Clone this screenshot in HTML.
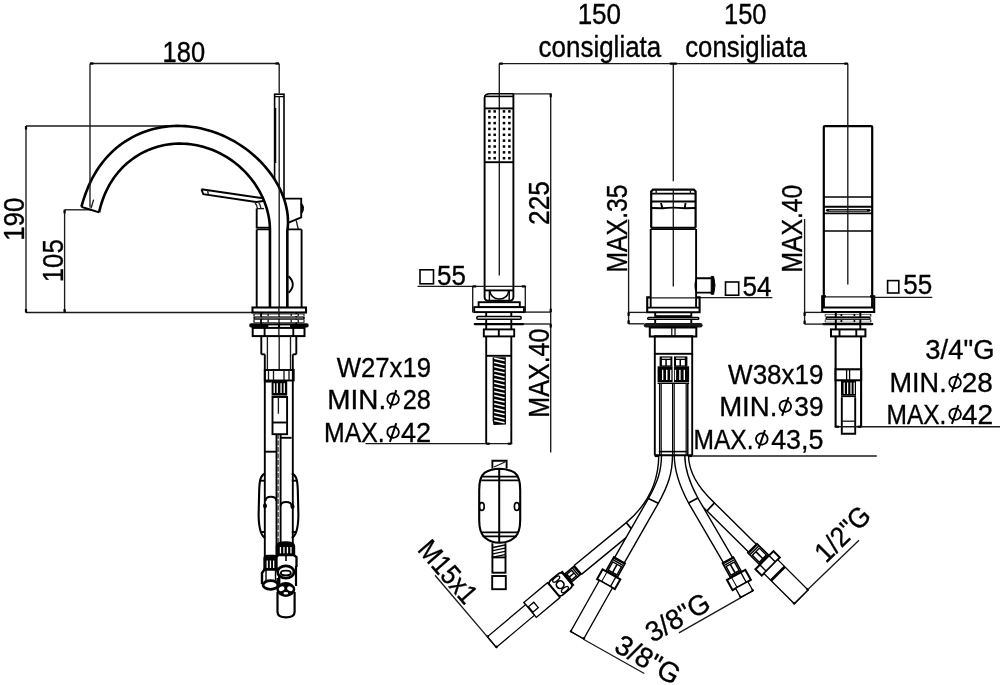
<!DOCTYPE html>
<html><head><meta charset="utf-8"><style>
html,body{margin:0;padding:0;background:#fff;}
svg{display:block;will-change:transform;}
text{font-family:"Liberation Sans",sans-serif;fill:#000;stroke:#000;stroke-width:0.35px;}
</style></head><body>
<svg width="1000" height="685" viewBox="0 0 1000 685">
<rect width="1000" height="685" fill="#fff"/>
<line x1="90.00" y1="63.50" x2="279.00" y2="63.50" stroke="#1a1a1a" stroke-width="1.35" fill="none"/>
<line x1="279.20" y1="63.50" x2="279.20" y2="93.50" stroke="#111" stroke-width="1.3"/>
<text transform="translate(164.50,61.90) rotate(0)" x="-1.94" y="0" font-size="29" textLength="42.54" lengthAdjust="spacingAndGlyphs">180</text>
<line x1="26.00" y1="126.00" x2="26.00" y2="312.50" stroke="#1a1a1a" stroke-width="1.35" fill="none"/>
<line x1="26.00" y1="126.00" x2="187.00" y2="126.00" stroke="#1a1a1a" stroke-width="1.35" fill="none"/>
<line x1="26.00" y1="312.50" x2="253.00" y2="312.50" stroke="#1a1a1a" stroke-width="1.35" fill="none"/>
<text transform="translate(23.80,238.90) rotate(-90)" x="-1.97" y="0" font-size="29" textLength="43.19" lengthAdjust="spacingAndGlyphs">190</text>
<line x1="64.60" y1="209.80" x2="64.60" y2="312.50" stroke="#1a1a1a" stroke-width="1.35" fill="none"/>
<line x1="64.60" y1="209.80" x2="92.00" y2="209.80" stroke="#1a1a1a" stroke-width="1.35" fill="none"/>
<text transform="translate(63.40,280.40) rotate(-90)" x="-1.97" y="0" font-size="29" textLength="43.16" lengthAdjust="spacingAndGlyphs">105</text>
<rect x="274.60" y="94.20" width="9.40" height="104.40" rx="0" stroke="#000" stroke-width="1.6" fill="none"/>
<line x1="274.60" y1="96.60" x2="284.00" y2="96.60" stroke="#000" stroke-width="1.3"/>
<line x1="275.60" y1="108.00" x2="275.60" y2="163.00" stroke="#000" stroke-width="1.3"/>
<path d="M284,198.6 L301.2,198.6 L301.2,217.3 L288,222.9" stroke="#000" stroke-width="1.9" fill="none"/>
<path d="M301.2,204 Q305,208.6 301.2,213.2" stroke="#000" stroke-width="2" fill="#000"/>
<line x1="296.20" y1="220.40" x2="298.30" y2="229.40" stroke="#1a1a1a" stroke-width="1.35" fill="none"/>
<path d="M201.4,189.3 L263.5,198.3 M201.4,189.3 L203.3,194.1 L256.5,202 L263.5,201" stroke="#000" stroke-width="1.9" fill="none"/>
<line x1="207.60" y1="189.80" x2="208.20" y2="194.20" stroke="#1a1a1a" stroke-width="1.35" fill="none"/>
<path d="M255,202.8 Q257,205 257.3,208.5 M258.8,202.8 Q260.5,205 261,208.5" stroke="#1a1a1a" stroke-width="1.35" fill="none"/>
<path d="M256.7,208.6 L256.7,227.6 L270,227.6" stroke="#000" stroke-width="1.9" fill="none"/>
<line x1="256.70" y1="208.60" x2="264.00" y2="208.60" stroke="#1a1a1a" stroke-width="1.35" fill="none"/>
<path d="M256.7,229.4 L301.6,229.4 M256.7,229.4 L256.7,308 M301.6,229.4 L301.6,308" stroke="#000" stroke-width="1.9" fill="none"/>
<path d="M81.41,206.75 82.46,203.07 83.59,199.42 84.80,195.80 86.10,192.21 87.50,188.65 89.00,185.12 90.62,181.64 92.35,178.21 94.20,174.84 96.17,171.52 98.27,168.28 100.49,165.10 102.83,162.01 105.30,159.01 107.88,156.11 110.59,153.31 113.41,150.62 116.35,148.05 119.39,145.59 122.53,143.27 125.77,141.08 129.10,139.02 132.51,137.11 136.00,135.34 139.56,133.72 143.18,132.25 146.86,130.93 150.59,129.77 154.36,128.76 158.17,127.90 162.00,127.20 165.85,126.65 169.72,126.25 173.59,126.00 177.47,125.91 181.34,125.95 185.20,126.14 189.05,126.48 192.87,126.95 196.67,127.55 200.44,128.29 204.17,129.15 207.87,130.15 211.53,131.26 215.15,132.49 218.72,133.84 222.24,135.30 225.71,136.88 229.13,138.56 232.49,140.35 235.80,142.24 239.04,144.24 242.22,146.33 245.34,148.53 248.39,150.82 251.37,153.22 254.28,155.71 257.10,158.29 259.85,160.97 262.52,163.75 265.09,166.62 267.57,169.58 269.94,172.63 272.21,175.78 274.37,179.01 276.40,182.33 278.30,185.73 280.06,189.21 281.68,192.78 283.13,196.41 284.42,200.11 285.53,203.87 286.45,207.68 287.17,211.53 287.68,215.41 287.96,219.31 288.00,223.22 287.80,227.12 287.34,231.00 L287.34,307 L269.95,307 L269.95,231.00 269.93,227.76 269.75,224.53 269.43,221.31 268.97,218.11 268.38,214.93 267.65,211.79 266.80,208.67 265.83,205.60 264.73,202.57 263.53,199.58 262.22,196.65 260.80,193.77 259.28,190.94 257.66,188.18 255.95,185.48 254.15,182.84 252.26,180.26 250.28,177.76 248.23,175.32 246.09,172.96 243.87,170.68 241.58,168.46 239.22,166.33 236.79,164.28 234.29,162.31 231.73,160.42 229.10,158.63 226.41,156.92 223.67,155.30 220.87,153.78 218.01,152.35 215.11,151.02 212.16,149.80 209.16,148.67 206.12,147.66 203.04,146.75 199.93,145.95 196.79,145.27 193.63,144.70 190.44,144.25 187.23,143.91 184.01,143.70 180.77,143.62 177.54,143.65 174.30,143.82 171.08,144.10 167.86,144.52 164.66,145.06 161.48,145.73 158.33,146.53 155.21,147.45 152.14,148.50 149.10,149.67 146.12,150.97 143.19,152.38 140.33,153.92 137.53,155.56 134.80,157.33 132.15,159.20 129.57,161.17 127.08,163.24 124.68,165.42 122.37,167.68 120.16,170.03 118.04,172.47 116.03,174.98 114.11,177.56 112.30,180.21 110.60,182.93 108.99,185.70 107.49,188.52 106.10,191.38 104.80,194.29 103.61,197.24 102.51,200.22 101.52,203.22 100.61,206.26 99.79,209.31 99.06,212.39 Z" fill="#fff" stroke="none"/>
<path d="M81.41,206.75 82.46,203.07 83.59,199.42 84.80,195.80 86.10,192.21 87.50,188.65 89.00,185.12 90.62,181.64 92.35,178.21 94.20,174.84 96.17,171.52 98.27,168.28 100.49,165.10 102.83,162.01 105.30,159.01 107.88,156.11 110.59,153.31 113.41,150.62 116.35,148.05 119.39,145.59 122.53,143.27 125.77,141.08 129.10,139.02 132.51,137.11 136.00,135.34 139.56,133.72 143.18,132.25 146.86,130.93 150.59,129.77 154.36,128.76 158.17,127.90 162.00,127.20 165.85,126.65 169.72,126.25 173.59,126.00 177.47,125.91 181.34,125.95 185.20,126.14 189.05,126.48 192.87,126.95 196.67,127.55 200.44,128.29 204.17,129.15 207.87,130.15 211.53,131.26 215.15,132.49 218.72,133.84 222.24,135.30 225.71,136.88 229.13,138.56 232.49,140.35 235.80,142.24 239.04,144.24 242.22,146.33 245.34,148.53 248.39,150.82 251.37,153.22 254.28,155.71 257.10,158.29 259.85,160.97 262.52,163.75 265.09,166.62 267.57,169.58 269.94,172.63 272.21,175.78 274.37,179.01 276.40,182.33 278.30,185.73 280.06,189.21 281.68,192.78 283.13,196.41 284.42,200.11 285.53,203.87 286.45,207.68 287.17,211.53 287.68,215.41 287.96,219.31 288.00,223.22 287.80,227.12 287.34,231.00 L287.34,308" stroke="#000" stroke-width="2.6" fill="none" stroke-linejoin="round"/>
<path d="M99.06,212.39 99.79,209.31 100.61,206.26 101.52,203.22 102.51,200.22 103.61,197.24 104.80,194.29 106.10,191.38 107.49,188.52 108.99,185.70 110.60,182.93 112.30,180.21 114.11,177.56 116.03,174.98 118.04,172.47 120.16,170.03 122.37,167.68 124.68,165.42 127.08,163.24 129.57,161.17 132.15,159.20 134.80,157.33 137.53,155.56 140.33,153.92 143.19,152.38 146.12,150.97 149.10,149.67 152.14,148.50 155.21,147.45 158.33,146.53 161.48,145.73 164.66,145.06 167.86,144.52 171.08,144.10 174.30,143.82 177.54,143.65 180.77,143.62 184.01,143.70 187.23,143.91 190.44,144.25 193.63,144.70 196.79,145.27 199.93,145.95 203.04,146.75 206.12,147.66 209.16,148.67 212.16,149.80 215.11,151.02 218.01,152.35 220.87,153.78 223.67,155.30 226.41,156.92 229.10,158.63 231.73,160.42 234.29,162.31 236.79,164.28 239.22,166.33 241.58,168.46 243.87,170.68 246.09,172.96 248.23,175.32 250.28,177.76 252.26,180.26 254.15,182.84 255.95,185.48 257.66,188.18 259.28,190.94 260.80,193.77 262.22,196.65 263.53,199.58 264.73,202.57 265.83,205.60 266.80,208.67 267.65,211.79 268.38,214.93 268.97,218.11 269.43,221.31 269.75,224.53 269.93,227.76 269.95,231.00 L269.95,308" stroke="#000" stroke-width="2.6" fill="none" stroke-linejoin="round"/>
<path d="M81.4,206.8 L90,209.5 L99.1,212.4" stroke="#000" stroke-width="1.9" fill="none"/>
<line x1="91.00" y1="208.30" x2="93.70" y2="199.60" stroke="#1a1a1a" stroke-width="1.35" fill="none"/>
<line x1="90.00" y1="63.50" x2="90.00" y2="207.50" stroke="#1a1a1a" stroke-width="1.35" fill="none"/>
<line x1="279.20" y1="96.00" x2="279.20" y2="370.00" stroke="#111" stroke-width="1.3"/>
<path d="M288.6,276.2 Q297,284.5 288.6,292.8" stroke="#000" stroke-width="1.9" fill="none"/>
<line x1="261.30" y1="312.00" x2="261.30" y2="336.00" stroke="#000" stroke-width="1.9" fill="none"/>
<line x1="296.30" y1="312.00" x2="296.30" y2="336.00" stroke="#000" stroke-width="1.9" fill="none"/>
<rect x="252.50" y="307.50" width="53.50" height="5.00" rx="0" stroke="#000" stroke-width="2.1" fill="#fff"/>
<line x1="278.90" y1="307.50" x2="278.90" y2="312.50" stroke="#1a1a1a" stroke-width="1.35" fill="none"/>
<rect x="253.40" y="313.60" width="51.10" height="3.00" fill="#000"/>
<rect x="254.60" y="314.40" width="5.50" height="1.60" fill="#fff"/>
<rect x="261.90" y="314.40" width="5.60" height="1.60" fill="#fff"/>
<rect x="268.70" y="314.40" width="9.70" height="1.60" fill="#fff"/>
<rect x="279.60" y="314.40" width="11.00" height="1.60" fill="#fff"/>
<rect x="291.80" y="314.40" width="5.80" height="1.60" fill="#fff"/>
<rect x="298.80" y="314.40" width="4.70" height="1.60" fill="#fff"/>
<rect x="253.40" y="317.00" width="51.40" height="1.90" fill="#000"/>
<line x1="255.00" y1="317.95" x2="303.00" y2="317.95" stroke="#fff" stroke-width="0.6"/>
<rect x="253.40" y="319.20" width="51.10" height="3.60" fill="#000"/>
<rect x="254.60" y="319.90" width="5.50" height="2.30" fill="#fff"/>
<rect x="261.90" y="319.90" width="5.60" height="2.30" fill="#fff"/>
<rect x="268.70" y="319.90" width="9.70" height="2.30" fill="#fff"/>
<rect x="279.60" y="319.90" width="11.00" height="2.30" fill="#fff"/>
<rect x="291.80" y="319.90" width="5.80" height="2.30" fill="#fff"/>
<rect x="298.80" y="319.90" width="4.70" height="2.30" fill="#fff"/>
<rect x="249.2" y="323.3" width="59.5" height="4.3" rx="2" fill="#000"/>
<rect x="268.30" y="325.40" width="9.60" height="2.40" fill="#fff"/>
<rect x="280.10" y="325.40" width="9.90" height="2.40" fill="#fff"/>
<rect x="252.70" y="327.90" width="51.80" height="8.20" rx="0" stroke="#000" stroke-width="2" fill="#fff"/>
<line x1="264.60" y1="327.90" x2="264.60" y2="336.10" stroke="#000" stroke-width="1.9" fill="none"/>
<line x1="293.30" y1="327.90" x2="293.30" y2="336.10" stroke="#000" stroke-width="1.9" fill="none"/>
<line x1="278.90" y1="327.90" x2="278.90" y2="336.10" stroke="#1a1a1a" stroke-width="1.35" fill="none"/>
<line x1="261.30" y1="336.00" x2="261.30" y2="354.30" stroke="#000" stroke-width="1.9" fill="none"/>
<line x1="296.30" y1="336.00" x2="296.30" y2="354.30" stroke="#000" stroke-width="1.9" fill="none"/>
<line x1="261.30" y1="354.30" x2="264.80" y2="354.30" stroke="#000" stroke-width="1.9" fill="none"/>
<line x1="296.30" y1="354.30" x2="292.80" y2="354.30" stroke="#000" stroke-width="1.9" fill="none"/>
<line x1="264.80" y1="354.30" x2="264.80" y2="560.00" stroke="#000" stroke-width="1.9" fill="none"/>
<line x1="292.80" y1="354.30" x2="292.80" y2="560.00" stroke="#000" stroke-width="1.9" fill="none"/>
<line x1="267.40" y1="336.00" x2="267.40" y2="370.00" stroke="#1a1a1a" stroke-width="1.35" fill="none"/>
<line x1="290.50" y1="336.00" x2="290.50" y2="370.00" stroke="#1a1a1a" stroke-width="1.35" fill="none"/>
<rect x="264.80" y="370.00" width="28.90" height="10.50" rx="0" stroke="#000" stroke-width="1.9" fill="none"/>
<line x1="268.50" y1="370.00" x2="268.50" y2="380.50" stroke="#1a1a1a" stroke-width="1.35" fill="none"/>
<line x1="273.50" y1="370.00" x2="273.50" y2="380.50" stroke="#1a1a1a" stroke-width="1.35" fill="none"/>
<line x1="284.00" y1="370.00" x2="284.00" y2="380.50" stroke="#1a1a1a" stroke-width="1.35" fill="none"/>
<line x1="289.00" y1="370.00" x2="289.00" y2="380.50" stroke="#1a1a1a" stroke-width="1.35" fill="none"/>
<rect x="271.60" y="380.40" width="15.60" height="15.00" fill="#000"/>
<rect x="273.60" y="383.20" width="1.30" height="9.80" fill="#fff"/>
<rect x="276.60" y="383.20" width="1.30" height="9.80" fill="#fff"/>
<rect x="280.40" y="383.20" width="1.30" height="9.80" fill="#fff"/>
<rect x="283.60" y="383.20" width="1.30" height="9.80" fill="#fff"/>
<line x1="271.80" y1="396.30" x2="287.00" y2="396.30" stroke="#000" stroke-width="1.2"/>
<line x1="264.80" y1="381.60" x2="271.60" y2="381.60" stroke="#000" stroke-width="1.9" fill="none"/>
<rect x="272.50" y="397.00" width="14.60" height="37.20" rx="0" stroke="#000" stroke-width="1.9" fill="none"/>
<line x1="272.50" y1="422.50" x2="287.10" y2="422.50" stroke="#000" stroke-width="1.9" fill="none"/>
<line x1="278.40" y1="397.00" x2="278.40" y2="413.70" stroke="#1a1a1a" stroke-width="1.35" fill="none"/>
<line x1="265.20" y1="451.70" x2="276.50" y2="451.70" stroke="#000" stroke-width="1.9" fill="none"/>
<line x1="276.50" y1="434.00" x2="276.50" y2="560.00" stroke="#000" stroke-width="1.9" fill="none"/>
<line x1="280.60" y1="434.00" x2="280.60" y2="545.00" stroke="#000" stroke-width="1.9" fill="none"/>
<line x1="280.60" y1="437.80" x2="291.60" y2="437.80" stroke="#000" stroke-width="1.9" fill="none"/>
<line x1="278.1" y1="434" x2="278.1" y2="545" stroke="#000" stroke-width="1" stroke-dasharray="5,1.5"/>
<path d="M265.2,473.5 C261,475 259.6,479 259.2,490 L258.6,515 C258.8,528 260.5,535.5 265.2,538" stroke="#000" stroke-width="2.1" fill="none"/>
<line x1="259.70" y1="480.70" x2="265.20" y2="480.70" stroke="#000" stroke-width="1.9" fill="none"/>
<line x1="260.30" y1="532.00" x2="265.20" y2="532.00" stroke="#000" stroke-width="1.9" fill="none"/>
<path d="M291.8,473.5 C296,475 297.4,479 297.8,490 L298.4,515 C298.2,528 296.5,535.5 291.8,538" stroke="#000" stroke-width="2.1" fill="none"/>
<line x1="297.30" y1="480.70" x2="291.80" y2="480.70" stroke="#000" stroke-width="1.9" fill="none"/>
<line x1="296.70" y1="532.00" x2="291.80" y2="532.00" stroke="#000" stroke-width="1.9" fill="none"/>
<path d="M265.5,501 Q265.8,496.8 270.8,496.8 Q276.3,496.8 276.3,501 M280.6,506 Q280.9,502 286,502 Q291.6,502 291.6,506" stroke="#000" stroke-width="1.9" fill="none"/>
<ellipse cx="265" cy="505.8" rx="2" ry="2.6" fill="#000"/><ellipse cx="292.5" cy="506.4" rx="2" ry="2.6" fill="#000"/>
<path d="M264.5,570 L264.5,559 Q264.5,556 267.5,556 L273.5,556 Q276.7,556 276.7,559 L276.7,570" stroke="#000" stroke-width="2.3" fill="#000"/>
<rect x="266.60" y="560.50" width="1.30" height="7.50" fill="#fff"/>
<rect x="269.80" y="560.50" width="1.30" height="7.50" fill="#fff"/>
<rect x="273.00" y="560.50" width="1.30" height="7.50" fill="#fff"/>
<path d="M262,584 L262,573 L264.5,569.5 L276.8,569.5 L279.2,573 L279.2,584" stroke="#000" stroke-width="2.4" fill="#fff"/>
<line x1="266.00" y1="570.00" x2="266.00" y2="582.00" stroke="#000" stroke-width="1.4"/>
<line x1="275.50" y1="570.00" x2="275.50" y2="582.00" stroke="#000" stroke-width="1.4"/>
<ellipse cx="270.6" cy="585" rx="7.6" ry="4.3" stroke="#000" stroke-width="2.8" fill="#fff"/>
<path d="M277,556 L277,546 Q277,542.5 285.5,542.5 Q294,542.5 294,546 L294,556" stroke="#000" stroke-width="2.4" fill="#000"/>
<rect x="279.80" y="547.00" width="1.30" height="6.50" fill="#fff"/>
<rect x="283.30" y="547.00" width="1.30" height="6.50" fill="#fff"/>
<rect x="286.80" y="547.00" width="1.30" height="6.50" fill="#fff"/>
<rect x="290.30" y="547.00" width="1.30" height="6.50" fill="#fff"/>
<path d="M276.5,567 L276.5,557 L278.5,555 L293.5,555 L296.5,557 L296.5,567" stroke="#000" stroke-width="2.3" fill="#fff"/>
<line x1="286.00" y1="555.00" x2="286.00" y2="561.00" stroke="#000" stroke-width="1.6"/>
<path d="M277.5,592 L277.5,612 Q277.5,617.3 286,617.3 Q294.6,617.3 294.6,612 L294.6,592" stroke="#000" stroke-width="2.2" fill="#fff"/>
<ellipse cx="285.8" cy="589.5" rx="8.3" ry="6.2" stroke="#000" stroke-width="2.4" fill="#000"/>
<ellipse cx="281.6" cy="588.8" rx="2.9" ry="2.2" transform="rotate(-25 281.6 588.8)" fill="#fff"/>
<ellipse cx="290" cy="588.8" rx="2.9" ry="2.2" transform="rotate(25 290 588.8)" fill="#fff"/>
<ellipse cx="285.8" cy="593.3" rx="2.4" ry="1.3" fill="#fff"/>
<line x1="296.00" y1="566.00" x2="296.00" y2="586.00" stroke="#000" stroke-width="2.2"/>
<ellipse cx="285.8" cy="572" rx="8.2" ry="6.2" stroke="#000" stroke-width="2.8" fill="#fff"/>
<ellipse cx="285.8" cy="573" rx="5" ry="2.4" stroke="#000" stroke-width="1.9" fill="#fff"/>
<line x1="277.50" y1="578.00" x2="277.50" y2="586.00" stroke="#000" stroke-width="2"/>
<line x1="499.30" y1="63.60" x2="848.00" y2="63.60" stroke="#1a1a1a" stroke-width="1.35" fill="none"/>
<line x1="499.30" y1="63.60" x2="499.30" y2="275.60" stroke="#1a1a1a" stroke-width="1.35" fill="none"/>
<line x1="673.30" y1="63.60" x2="673.30" y2="181.30" stroke="#1a1a1a" stroke-width="1.35" fill="none"/>
<line x1="847.80" y1="63.60" x2="847.80" y2="125.60" stroke="#1a1a1a" stroke-width="1.35" fill="none"/>
<text transform="translate(579.60,23.70) rotate(0)" x="-1.98" y="0" font-size="29" textLength="43.40" lengthAdjust="spacingAndGlyphs">150</text>
<text transform="translate(539.70,57.30) rotate(0)" x="-1.09" y="0" font-size="29" textLength="122.59" lengthAdjust="spacingAndGlyphs">consigliata</text>
<text transform="translate(725.90,23.70) rotate(0)" x="-1.94" y="0" font-size="29" textLength="42.54" lengthAdjust="spacingAndGlyphs">150</text>
<text transform="translate(686.30,57.10) rotate(0)" x="-1.08" y="0" font-size="29" textLength="121.68" lengthAdjust="spacingAndGlyphs">consigliata</text>
<path d="M484.6,97 L484.6,297 Q484.6,300.8 488.8,300.8 L508.8,300.8 Q513.4,300.8 513.4,297 L513.4,93.8" stroke="#000" stroke-width="1.9" fill="none"/>
<path d="M484.6,97 Q485,93.8 490,93.8 L513.4,93.8" stroke="#000" stroke-width="1.6" fill="none"/>
<line x1="484.60" y1="96.40" x2="513.40" y2="96.40" stroke="#000" stroke-width="1.6"/>
<line x1="484.60" y1="108.40" x2="513.40" y2="108.40" stroke="#000" stroke-width="1.9" fill="none"/>
<line x1="484.60" y1="162.20" x2="513.40" y2="162.20" stroke="#000" stroke-width="1.9" fill="none"/>
<rect x="488.15" y="110.15" width="2.5" height="2.5" fill="#000"/>
<rect x="493.45" y="110.15" width="2.5" height="2.5" fill="#000"/>
<rect x="502.75" y="110.15" width="2.5" height="2.5" fill="#000"/>
<rect x="508.15" y="110.15" width="2.5" height="2.5" fill="#000"/>
<rect x="488.15" y="116.00" width="2.5" height="2.5" fill="#000"/>
<rect x="493.45" y="116.00" width="2.5" height="2.5" fill="#000"/>
<rect x="502.75" y="116.00" width="2.5" height="2.5" fill="#000"/>
<rect x="508.15" y="116.00" width="2.5" height="2.5" fill="#000"/>
<rect x="488.15" y="121.85" width="2.5" height="2.5" fill="#000"/>
<rect x="493.45" y="121.85" width="2.5" height="2.5" fill="#000"/>
<rect x="502.75" y="121.85" width="2.5" height="2.5" fill="#000"/>
<rect x="508.15" y="121.85" width="2.5" height="2.5" fill="#000"/>
<rect x="488.15" y="127.70" width="2.5" height="2.5" fill="#000"/>
<rect x="493.45" y="127.70" width="2.5" height="2.5" fill="#000"/>
<rect x="502.75" y="127.70" width="2.5" height="2.5" fill="#000"/>
<rect x="508.15" y="127.70" width="2.5" height="2.5" fill="#000"/>
<rect x="488.15" y="133.55" width="2.5" height="2.5" fill="#000"/>
<rect x="493.45" y="133.55" width="2.5" height="2.5" fill="#000"/>
<rect x="502.75" y="133.55" width="2.5" height="2.5" fill="#000"/>
<rect x="508.15" y="133.55" width="2.5" height="2.5" fill="#000"/>
<rect x="488.15" y="139.40" width="2.5" height="2.5" fill="#000"/>
<rect x="493.45" y="139.40" width="2.5" height="2.5" fill="#000"/>
<rect x="502.75" y="139.40" width="2.5" height="2.5" fill="#000"/>
<rect x="508.15" y="139.40" width="2.5" height="2.5" fill="#000"/>
<rect x="488.15" y="145.25" width="2.5" height="2.5" fill="#000"/>
<rect x="493.45" y="145.25" width="2.5" height="2.5" fill="#000"/>
<rect x="502.75" y="145.25" width="2.5" height="2.5" fill="#000"/>
<rect x="508.15" y="145.25" width="2.5" height="2.5" fill="#000"/>
<rect x="488.15" y="151.10" width="2.5" height="2.5" fill="#000"/>
<rect x="493.45" y="151.10" width="2.5" height="2.5" fill="#000"/>
<rect x="502.75" y="151.10" width="2.5" height="2.5" fill="#000"/>
<rect x="508.15" y="151.10" width="2.5" height="2.5" fill="#000"/>
<rect x="488.15" y="156.95" width="2.5" height="2.5" fill="#000"/>
<rect x="493.45" y="156.95" width="2.5" height="2.5" fill="#000"/>
<rect x="502.75" y="156.95" width="2.5" height="2.5" fill="#000"/>
<rect x="508.15" y="156.95" width="2.5" height="2.5" fill="#000"/>
<line x1="484.60" y1="290.40" x2="513.40" y2="290.40" stroke="#000" stroke-width="1.9" fill="none"/>
<path d="M489.8,290.6 Q491,298.9 499.3,298.9 Q507.6,298.9 508.8,290.6" stroke="#000" stroke-width="1.5" fill="none"/>
<line x1="489.40" y1="290.60" x2="489.40" y2="300.50" stroke="#000" stroke-width="1.4"/>
<line x1="509.20" y1="290.60" x2="509.20" y2="300.50" stroke="#000" stroke-width="1.4"/>
<rect x="478.60" y="302.20" width="41.20" height="4.90" rx="0" stroke="#000" stroke-width="1.9" fill="none"/>
<rect x="474.20" y="307.10" width="49.80" height="5.00" rx="0" stroke="#000" stroke-width="1.9" fill="none"/>
<line x1="486.20" y1="312.00" x2="486.20" y2="443.60" stroke="#000" stroke-width="1.9" fill="none"/>
<line x1="511.30" y1="312.00" x2="511.30" y2="443.60" stroke="#000" stroke-width="1.9" fill="none"/>
<rect x="476.80" y="316.60" width="44.40" height="2.70" rx="1.2" stroke="#000" stroke-width="1.5" fill="#fff"/>
<path d="M474.8,324.1 L523.2,324.1" stroke="#000" stroke-width="2.3" stroke-linecap="round"/>
<rect x="483.80" y="329.40" width="30.40" height="7.00" rx="0" stroke="#000" stroke-width="1.9" fill="#fff"/>
<line x1="498.80" y1="329.40" x2="498.80" y2="336.40" stroke="#000" stroke-width="1.9" fill="none"/>
<line x1="486.20" y1="355.80" x2="511.30" y2="355.80" stroke="#000" stroke-width="1.9" fill="none"/>
<path d="M492.6,357.2 L505.8,357.2 L506,424.5 L493.5,425 L492.6,420 Z" fill="#000"/>
<path d="M494.2,358.20 L504.6,360.60 M494.2,362.35 L504.6,364.75 M494.2,366.50 L504.6,368.90 M494.2,370.65 L504.6,373.05 M494.2,374.80 L504.6,377.20 M494.2,378.95 L504.6,381.35 M494.2,383.10 L504.6,385.50 M494.2,387.25 L504.6,389.65 M494.2,391.40 L504.6,393.80 M494.2,395.55 L504.6,397.95 M494.2,399.70 L504.6,402.10 M494.2,403.85 L504.6,406.25 M494.2,408.00 L504.6,410.40 M494.2,412.15 L504.6,414.55 M494.2,416.30 L504.6,418.70 M494.2,420.45 L504.6,422.85" stroke="#fff" stroke-width="1.5" fill="none"/>
<line x1="513.00" y1="93.80" x2="551.50" y2="93.80" stroke="#1a1a1a" stroke-width="1.35" fill="none"/>
<line x1="550.70" y1="93.80" x2="550.70" y2="452.50" stroke="#1a1a1a" stroke-width="1.35" fill="none"/>
<line x1="524.40" y1="312.10" x2="551.20" y2="312.10" stroke="#1a1a1a" stroke-width="1.35" fill="none"/>
<line x1="523.50" y1="324.00" x2="551.20" y2="324.00" stroke="#1a1a1a" stroke-width="1.35" fill="none"/>
<line x1="365.60" y1="443.60" x2="512.30" y2="443.60" stroke="#1a1a1a" stroke-width="1.35" fill="none"/>
<text transform="translate(549.10,223.60) rotate(-90)" x="-1.31" y="0" font-size="29" textLength="43.83" lengthAdjust="spacingAndGlyphs">225</text>
<text transform="translate(549.20,415.60) rotate(-90)" x="-2.05" y="0" font-size="29" textLength="89.14" lengthAdjust="spacingAndGlyphs">MAX.40</text>
<rect x="420.00" y="269.80" width="13.50" height="14.00" rx="0" stroke="#000" stroke-width="1.6" fill="none"/>
<text transform="translate(438.10,284.60) rotate(0)" x="-1.04" y="0" font-size="28" textLength="28.83" lengthAdjust="spacingAndGlyphs">55</text>
<line x1="417.50" y1="286.40" x2="526.20" y2="286.40" stroke="#1a1a1a" stroke-width="1.35" fill="none"/>
<line x1="472.70" y1="286.40" x2="472.70" y2="312.40" stroke="#1a1a1a" stroke-width="1.35" fill="none"/>
<line x1="525.30" y1="286.40" x2="525.30" y2="312.40" stroke="#1a1a1a" stroke-width="1.35" fill="none"/>
<text transform="translate(336.80,376.60) rotate(0)" x="-0.13" y="0" font-size="28.2" textLength="94.35" lengthAdjust="spacingAndGlyphs">W27x19</text>
<text transform="translate(329.60,408.70) rotate(0)" x="-2.28" y="0" font-size="28.2" textLength="58.82" lengthAdjust="spacingAndGlyphs">MIN.</text>
<ellipse cx="393.10" cy="399.10" rx="5.8" ry="5.6" transform="rotate(10 393.10 399.10)" stroke="#000" stroke-width="1.8" fill="none"/>
<line x1="389.90" y1="408.70" x2="396.30" y2="390.10" stroke="#000" stroke-width="2"/>
<text transform="translate(404.00,408.70) rotate(0)" x="-1.27" y="0" font-size="28.2" textLength="28.16" lengthAdjust="spacingAndGlyphs">28</text>
<text transform="translate(326.00,441.80) rotate(0)" x="-2.04" y="0" font-size="28.2" textLength="60.69" lengthAdjust="spacingAndGlyphs">MAX.</text>
<ellipse cx="393.10" cy="432.20" rx="5.8" ry="5.6" transform="rotate(10 393.10 432.20)" stroke="#000" stroke-width="1.8" fill="none"/>
<line x1="389.90" y1="441.80" x2="396.30" y2="423.20" stroke="#000" stroke-width="2"/>
<text transform="translate(401.60,441.80) rotate(0)" x="-0.62" y="0" font-size="28.2" textLength="30.19" lengthAdjust="spacingAndGlyphs">42</text>
<path d="M492.4,468.6 L492.4,460.8 L506.6,460.8 L506.6,468.6" stroke="#000" stroke-width="1.9" fill="none"/>
<line x1="494.00" y1="467.00" x2="505.00" y2="462.00" stroke="#1a1a1a" stroke-width="1.35" fill="none"/>
<path d="M499.7,468.8 Q508.5,469 514.6,472.7 Q520.2,477 520.2,490 L520.2,520 Q520.2,533 514.6,537.5 Q508.5,542.8 499.7,542.8 Q490.9,542.8 484.8,537.5 Q479.2,533 479.2,520 L479.2,490 Q479.2,477 484.8,472.7 Q490.9,469 499.7,468.8 Z" stroke="#000" stroke-width="2.1" fill="none"/>
<line x1="482.50" y1="476.60" x2="517.00" y2="476.60" stroke="#000" stroke-width="1.9" fill="none"/>
<line x1="481.20" y1="480.40" x2="518.20" y2="480.40" stroke="#000" stroke-width="1.9" fill="none"/>
<line x1="481.20" y1="532.40" x2="518.20" y2="532.40" stroke="#000" stroke-width="1.9" fill="none"/>
<line x1="482.50" y1="536.40" x2="517.00" y2="536.40" stroke="#000" stroke-width="1.9" fill="none"/>
<line x1="499.20" y1="468.80" x2="499.20" y2="542.80" stroke="#000" stroke-width="2"/>
<ellipse cx="481.8" cy="506.5" rx="2.4" ry="3.9" stroke="#000" stroke-width="1.7" fill="none"/>
<ellipse cx="516.8" cy="506.5" rx="2.4" ry="3.9" stroke="#000" stroke-width="1.7" fill="none"/>
<line x1="492.40" y1="543.20" x2="492.40" y2="557.40" stroke="#000" stroke-width="1.9" fill="none"/>
<line x1="505.50" y1="543.20" x2="505.50" y2="557.40" stroke="#000" stroke-width="1.9" fill="none"/>
<line x1="493.00" y1="547.50" x2="505.00" y2="545.00" stroke="#000" stroke-width="1.3"/>
<line x1="493.00" y1="550.70" x2="505.00" y2="548.20" stroke="#000" stroke-width="1.3"/>
<line x1="493.00" y1="553.90" x2="505.00" y2="551.40" stroke="#000" stroke-width="1.3"/>
<line x1="493.00" y1="557.10" x2="505.00" y2="554.60" stroke="#000" stroke-width="1.3"/>
<rect x="492.40" y="557.40" width="13.10" height="15.30" rx="0" stroke="#000" stroke-width="1.9" fill="none"/>
<rect x="492.20" y="576.00" width="13.60" height="13.20" rx="0" stroke="#000" stroke-width="1.9" fill="none"/>
<path d="M651.2,227.8 L651.2,191.4 L653,189.6 L693.8,189.6 L695.6,191.4 L695.6,227.8" stroke="#000" stroke-width="2.2" fill="none"/>
<line x1="651.20" y1="193.60" x2="695.60" y2="193.60" stroke="#000" stroke-width="1.9" fill="none"/>
<line x1="656.20" y1="190.00" x2="656.20" y2="194.00" stroke="#1a1a1a" stroke-width="1.35" fill="none"/>
<line x1="690.40" y1="190.00" x2="690.40" y2="194.00" stroke="#1a1a1a" stroke-width="1.35" fill="none"/>
<line x1="651.20" y1="201.50" x2="695.60" y2="201.50" stroke="#000" stroke-width="2.2" fill="none"/>
<path d="M661,203 L662.3,208 M685.6,203 L684.7,208" stroke="#000" stroke-width="1.9" fill="none"/>
<path d="M651.2,208 L662.3,208.2 Q673,207 684.7,208.2 L695.6,208" stroke="#000" stroke-width="1.9" fill="none"/>
<line x1="651.20" y1="227.60" x2="695.60" y2="227.60" stroke="#000" stroke-width="1.9" fill="none"/>
<line x1="673.30" y1="189.60" x2="673.30" y2="286.40" stroke="#1a1a1a" stroke-width="1.35" fill="none"/>
<path d="M650.7,229.1 L696.1,229.1 M650.7,229.1 L650.7,307.6 M696.1,229.1 L696.1,307.6" stroke="#000" stroke-width="1.9" fill="none"/>
<path d="M697,278.2 L711.5,278.2 M711.5,292.6 L697,292.6" stroke="#000" stroke-width="1.9" fill="none"/>
<path d="M711.2,276.4 L713.6,276.4 Q716.4,285.4 713.6,294.3 L711.2,294.3 Z" stroke="#000" stroke-width="1" fill="#000"/>
<path d="M696.3,279.5 Q694.2,285.4 696.3,291.3" stroke="#000" stroke-width="1.6" fill="none"/>
<rect x="725.50" y="282.00" width="13.20" height="13.20" rx="0" stroke="#000" stroke-width="1.6" fill="none"/>
<text transform="translate(743.50,296.00) rotate(0)" x="-1.04" y="0" font-size="28" textLength="29.01" lengthAdjust="spacingAndGlyphs">54</text>
<line x1="697.00" y1="297.60" x2="772.40" y2="297.60" stroke="#1a1a1a" stroke-width="1.35" fill="none"/>
<line x1="650.70" y1="297.80" x2="697.00" y2="297.80" stroke="#1a1a1a" stroke-width="1.35" fill="none"/>
<path d="M651,297.4 L647.2,297.4 L647.2,312.2 L699.6,312.2 L699.6,297.4 L696,297.4" stroke="#000" stroke-width="2.1" fill="none"/>
<line x1="647.20" y1="307.60" x2="699.60" y2="307.60" stroke="#000" stroke-width="1.9" fill="none"/>
<line x1="655.20" y1="312.00" x2="655.20" y2="327.00" stroke="#000" stroke-width="1.9" fill="none"/>
<line x1="691.30" y1="312.00" x2="691.30" y2="327.00" stroke="#000" stroke-width="1.9" fill="none"/>
<rect x="655.40" y="315.20" width="35.70" height="2.10" fill="#000"/>
<rect x="647.70" y="317.40" width="51.10" height="1.90" rx="0.9" stroke="#000" stroke-width="1.4" fill="#fff"/>
<rect x="643.8" y="323" width="58.8" height="4.5" rx="2.2" fill="#1a1a1a"/>
<rect x="649.80" y="327.50" width="46.50" height="9.00" rx="0" stroke="#000" stroke-width="2" fill="#fff"/>
<line x1="671.80" y1="327.50" x2="671.80" y2="336.50" stroke="#000" stroke-width="1.2"/>
<line x1="675.00" y1="327.50" x2="675.00" y2="336.50" stroke="#000" stroke-width="1.2"/>
<rect x="654.80" y="336.20" width="37.40" height="17.60" rx="0" stroke="#000" stroke-width="1.9" fill="none"/>
<line x1="654.80" y1="353.80" x2="654.80" y2="455.40" stroke="#000" stroke-width="1.9" fill="none"/>
<line x1="692.20" y1="353.80" x2="692.20" y2="455.40" stroke="#000" stroke-width="1.9" fill="none"/>
<line x1="654.80" y1="455.40" x2="692.20" y2="455.40" stroke="#000" stroke-width="1.9" fill="none"/>
<rect x="659.60" y="356.40" width="13.00" height="10.10" fill="#000"/>
<rect x="674.00" y="356.40" width="13.40" height="10.10" fill="#000"/>
<rect x="661.90" y="360.00" width="3.40" height="5.40" fill="#fff"/>
<rect x="666.80" y="360.00" width="3.60" height="5.40" fill="#fff"/>
<rect x="676.00" y="360.00" width="3.50" height="5.40" fill="#fff"/>
<rect x="681.00" y="360.00" width="3.80" height="5.40" fill="#fff"/>
<rect x="661.90" y="357.60" width="8.50" height="1.10" fill="#fff"/>
<rect x="676.00" y="357.60" width="8.80" height="1.10" fill="#fff"/>
<rect x="657.60" y="366.30" width="31.50" height="15.70" fill="#000"/>
<rect x="662.00" y="369.80" width="1.30" height="10.20" fill="#fff"/>
<rect x="666.00" y="369.80" width="1.50" height="10.20" fill="#fff"/>
<rect x="670.10" y="369.80" width="1.30" height="10.20" fill="#fff"/>
<rect x="674.80" y="369.80" width="1.30" height="10.20" fill="#fff"/>
<rect x="679.20" y="369.80" width="1.40" height="10.20" fill="#fff"/>
<rect x="683.60" y="369.80" width="1.40" height="10.20" fill="#fff"/>
<rect x="672.60" y="356.40" width="1.40" height="25.60" fill="#fff"/>
<line x1="657.60" y1="383.20" x2="689.10" y2="383.20" stroke="#000" stroke-width="1.4"/>
<line x1="659.60" y1="383.00" x2="659.60" y2="455.40" stroke="#000" stroke-width="1.3"/>
<line x1="661.20" y1="383.00" x2="661.20" y2="455.40" stroke="#1a1a1a" stroke-width="1.35" fill="none"/>
<line x1="672.60" y1="383.00" x2="672.60" y2="455.40" stroke="#000" stroke-width="1.2"/>
<line x1="674.20" y1="383.00" x2="674.20" y2="455.40" stroke="#000" stroke-width="1.2"/>
<line x1="686.20" y1="383.00" x2="686.20" y2="455.40" stroke="#1a1a1a" stroke-width="1.35" fill="none"/>
<line x1="687.80" y1="383.00" x2="687.80" y2="455.40" stroke="#000" stroke-width="1.5"/>
<line x1="658.80" y1="451.60" x2="686.40" y2="451.60" stroke="#000" stroke-width="1.6"/>
<line x1="628.60" y1="219.50" x2="628.60" y2="323.80" stroke="#1a1a1a" stroke-width="1.35" fill="none"/>
<line x1="628.60" y1="312.40" x2="647.60" y2="312.40" stroke="#1a1a1a" stroke-width="1.35" fill="none"/>
<line x1="628.60" y1="323.80" x2="644.00" y2="323.80" stroke="#1a1a1a" stroke-width="1.35" fill="none"/>
<text transform="translate(627.40,270.50) rotate(-90)" x="-2.03" y="0" font-size="29" textLength="88.07" lengthAdjust="spacingAndGlyphs">MAX.35</text>
<text transform="translate(728.20,383.70) rotate(0)" x="-0.13" y="0" font-size="28.2" textLength="95.47" lengthAdjust="spacingAndGlyphs">W38x19</text>
<text transform="translate(721.40,415.80) rotate(0)" x="-2.26" y="0" font-size="28.2" textLength="58.16" lengthAdjust="spacingAndGlyphs">MIN.</text>
<ellipse cx="785.30" cy="406.20" rx="5.8" ry="5.6" transform="rotate(10 785.30 406.20)" stroke="#000" stroke-width="1.8" fill="none"/>
<line x1="782.10" y1="415.80" x2="788.50" y2="397.20" stroke="#000" stroke-width="2"/>
<text transform="translate(795.30,415.80) rotate(0)" x="-1.00" y="0" font-size="28.2" textLength="29.24" lengthAdjust="spacingAndGlyphs">39</text>
<text transform="translate(695.50,448.60) rotate(0)" x="-2.01" y="0" font-size="28.2" textLength="60.05" lengthAdjust="spacingAndGlyphs">MAX.</text>
<ellipse cx="761.80" cy="439.00" rx="5.8" ry="5.6" transform="rotate(10 761.80 439.00)" stroke="#000" stroke-width="1.8" fill="none"/>
<line x1="758.60" y1="448.60" x2="765.00" y2="430.00" stroke="#000" stroke-width="2"/>
<text transform="translate(771.80,448.60) rotate(0)" x="-0.62" y="0" font-size="28.2" textLength="52.25" lengthAdjust="spacingAndGlyphs">43,5</text>
<line x1="692.20" y1="456.00" x2="876.80" y2="456.00" stroke="#1a1a1a" stroke-width="1.35" fill="none"/>
<path d="M823.8,307.5 L823.8,127 Q823.8,126.1 824.7,126.1 L871.3,126.1 Q872.2,126.1 872.2,127 L872.2,307.5" stroke="#000" stroke-width="2.2" fill="none"/>
<line x1="823.80" y1="196.90" x2="872.20" y2="196.90" stroke="#000" stroke-width="1.5"/>
<line x1="823.80" y1="206.80" x2="872.20" y2="206.80" stroke="#000" stroke-width="1.9" fill="none"/>
<line x1="823.80" y1="213.40" x2="872.20" y2="213.40" stroke="#000" stroke-width="1.9" fill="none"/>
<rect x="826" y="208.9" width="44.5" height="2.8" rx="1.4" fill="#000"/>
<line x1="829.00" y1="210.30" x2="867.00" y2="210.30" stroke="#fff" stroke-width="0.6"/>
<line x1="823.80" y1="230.90" x2="872.20" y2="230.90" stroke="#000" stroke-width="1.5"/>
<line x1="847.80" y1="125.60" x2="847.80" y2="284.40" stroke="#1a1a1a" stroke-width="1.35" fill="none"/>
<line x1="823.80" y1="296.90" x2="872.20" y2="296.90" stroke="#1a1a1a" stroke-width="1.35" fill="none"/>
<path d="M826,296.4 L822.2,296.4 L822.2,312 L874.2,312 L874.2,296.4 L870,296.4" stroke="#000" stroke-width="2.1" fill="none"/>
<line x1="822.20" y1="307.50" x2="874.20" y2="307.50" stroke="#000" stroke-width="1.9" fill="none"/>
<line x1="835.80" y1="312.00" x2="835.80" y2="329.40" stroke="#000" stroke-width="1.9" fill="none"/>
<line x1="860.30" y1="312.00" x2="860.30" y2="329.40" stroke="#000" stroke-width="1.9" fill="none"/>
<rect x="824.80" y="313.90" width="46.50" height="2.60" fill="#000"/>
<rect x="825.50" y="314.50" width="9.30" height="1.50" fill="#fff"/>
<rect x="836.80" y="314.50" width="3.70" height="1.50" fill="#fff"/>
<rect x="842.30" y="314.50" width="11.30" height="1.50" fill="#fff"/>
<rect x="855.20" y="314.50" width="4.20" height="1.50" fill="#fff"/>
<rect x="861.30" y="314.50" width="9.00" height="1.50" fill="#fff"/>
<rect x="826.00" y="317.40" width="44.20" height="1.80" rx="0.9" stroke="#000" stroke-width="1.3" fill="#fff"/>
<rect x="824.80" y="319.60" width="46.50" height="2.70" fill="#000"/>
<rect x="825.50" y="320.10" width="9.30" height="1.70" fill="#fff"/>
<rect x="836.80" y="320.10" width="3.70" height="1.70" fill="#fff"/>
<rect x="842.30" y="320.10" width="11.30" height="1.70" fill="#fff"/>
<rect x="855.20" y="320.10" width="4.20" height="1.70" fill="#fff"/>
<rect x="861.30" y="320.10" width="9.00" height="1.70" fill="#fff"/>
<path d="M823.5,324.1 L872.3,324.1" stroke="#000" stroke-width="2.3" stroke-linecap="round"/>
<rect x="831.00" y="329.40" width="34.40" height="7.00" rx="0" stroke="#000" stroke-width="2" fill="#fff"/>
<line x1="839.50" y1="329.40" x2="839.50" y2="336.40" stroke="#000" stroke-width="1.9" fill="none"/>
<line x1="856.30" y1="329.40" x2="856.30" y2="336.40" stroke="#000" stroke-width="1.9" fill="none"/>
<line x1="835.60" y1="336.00" x2="835.60" y2="427.40" stroke="#000" stroke-width="2.1"/>
<line x1="861.10" y1="336.00" x2="861.10" y2="427.40" stroke="#000" stroke-width="2.1"/>
<rect x="835.60" y="369.30" width="25.50" height="11.00" rx="0" stroke="#000" stroke-width="2.1" fill="#fff"/>
<line x1="846.60" y1="369.30" x2="846.60" y2="380.30" stroke="#000" stroke-width="1.3"/>
<line x1="849.60" y1="369.30" x2="849.60" y2="380.30" stroke="#000" stroke-width="1.3"/>
<rect x="841" y="380.3" width="15" height="15.4" fill="#000"/>
<rect x="843.60" y="382.50" width="1.20" height="11.50" fill="#fff"/>
<rect x="847.00" y="382.50" width="1.20" height="11.50" fill="#fff"/>
<rect x="850.40" y="382.50" width="1.20" height="11.50" fill="#fff"/>
<rect x="853.60" y="382.50" width="1.20" height="11.50" fill="#fff"/>
<line x1="841.00" y1="396.40" x2="856.00" y2="396.40" stroke="#000" stroke-width="1.4"/>
<path d="M841.8,397.3 L841.8,433.8 L855.2,433.8 L855.2,397.3" stroke="#000" stroke-width="1.9" fill="none"/>
<line x1="841.80" y1="421.20" x2="855.20" y2="421.20" stroke="#1a1a1a" stroke-width="1.35" fill="none"/>
<line x1="834.70" y1="426.70" x2="1000.00" y2="426.70" stroke="#1a1a1a" stroke-width="1.35" fill="none"/>
<line x1="804.60" y1="219.00" x2="804.60" y2="324.10" stroke="#1a1a1a" stroke-width="1.35" fill="none"/>
<line x1="804.60" y1="312.40" x2="822.80" y2="312.40" stroke="#1a1a1a" stroke-width="1.35" fill="none"/>
<line x1="804.60" y1="324.10" x2="830.00" y2="324.10" stroke="#1a1a1a" stroke-width="1.35" fill="none"/>
<text transform="translate(802.40,270.50) rotate(-90)" x="-2.02" y="0" font-size="29" textLength="87.69" lengthAdjust="spacingAndGlyphs">MAX.40</text>
<rect x="887.60" y="280.60" width="11.20" height="12.40" rx="0" stroke="#000" stroke-width="1.6" fill="none"/>
<text transform="translate(904.30,293.80) rotate(0)" x="-1.04" y="0" font-size="28" textLength="28.94" lengthAdjust="spacingAndGlyphs">55</text>
<line x1="873.60" y1="297.30" x2="932.30" y2="297.30" stroke="#1a1a1a" stroke-width="1.35" fill="none"/>
<text transform="translate(926.40,359.30) rotate(0)" x="-1.04" y="0" font-size="28.2" textLength="69.09" lengthAdjust="spacingAndGlyphs">3/4&quot;G</text>
<text transform="translate(891.70,392.00) rotate(0)" x="-2.22" y="0" font-size="28.2" textLength="57.18" lengthAdjust="spacingAndGlyphs">MIN.</text>
<ellipse cx="955.10" cy="382.40" rx="5.8" ry="5.6" transform="rotate(10 955.10 382.40)" stroke="#000" stroke-width="1.8" fill="none"/>
<line x1="951.90" y1="392.00" x2="958.30" y2="373.40" stroke="#000" stroke-width="2"/>
<text transform="translate(963.20,392.00) rotate(0)" x="-1.40" y="0" font-size="28.2" textLength="31.11" lengthAdjust="spacingAndGlyphs">28</text>
<text transform="translate(888.50,423.80) rotate(0)" x="-2.01" y="0" font-size="28.2" textLength="59.94" lengthAdjust="spacingAndGlyphs">MAX.</text>
<ellipse cx="955.10" cy="414.20" rx="5.8" ry="5.6" transform="rotate(10 955.10 414.20)" stroke="#000" stroke-width="1.8" fill="none"/>
<line x1="951.90" y1="423.80" x2="958.30" y2="405.20" stroke="#000" stroke-width="2"/>
<text transform="translate(962.50,423.80) rotate(0)" x="-0.65" y="0" font-size="28.2" textLength="31.26" lengthAdjust="spacingAndGlyphs">42</text>
<path d="M664.5,455 C664.5,485 653,507.7 630,527 L577.8,569.9" stroke="#000" stroke-width="12.9" fill="none"/>
<path d="M664.5,455 C664.5,485 653,507.7 630,527 L577.8,569.9" stroke="#fff" stroke-width="10.1" fill="none"/>
<line x1="633.80" y1="531.60" x2="626.40" y2="522.80" stroke="#000" stroke-width="1.7"/>
<path d="M667,455 C667,472 662.9,483.5 653.3,501 L619.5,560.1" stroke="#000" stroke-width="12.4" fill="none"/>
<path d="M667,455 C667,472 662.9,483.5 653.3,501 L619.5,560.1" stroke="#fff" stroke-width="9.6" fill="none"/>
<line x1="658.28" y1="503.22" x2="648.32" y2="498.58" stroke="#000" stroke-width="1.7"/>
<path d="M683,455 C683,472 692.4,489.9 710.7,506.9 L752.4,548.2" stroke="#000" stroke-width="12.4" fill="none"/>
<path d="M683,455 C683,472 692.4,489.9 710.7,506.9 L752.4,548.2" stroke="#fff" stroke-width="9.6" fill="none"/>
<line x1="714.45" y1="502.88" x2="706.95" y2="510.92" stroke="#000" stroke-width="1.7"/>
<path d="M679.5,455 C679.5,470 683.7,482.9 693.2,500.5 L727.9,560" stroke="#000" stroke-width="11.9" fill="none"/>
<path d="M679.5,455 C679.5,470 683.7,482.9 693.2,500.5 L727.9,560" stroke="#fff" stroke-width="9.1" fill="none"/>
<line x1="697.82" y1="498.00" x2="688.58" y2="503.00" stroke="#000" stroke-width="1.7"/>
<line x1="654.80" y1="455.40" x2="692.20" y2="455.40" stroke="#000" stroke-width="1.9" fill="none"/>
<g transform="translate(577.80,569.90) rotate(140)">
<rect x="0" y="-5.25" width="13.5" height="10.5" rx="0" stroke="#000" stroke-width="1.6" fill="#fff"/>
<line x1="1.0" y1="-5.25" x2="1.0" y2="5.25" stroke="#000" stroke-width="1.4"/>
<line x1="2.9" y1="-5.25" x2="2.9" y2="5.25" stroke="#000" stroke-width="1.4"/>
<rect x="4.2" y="-4.45" width="7.9" height="8.9" fill="#000"/>
<rect x="5.6" y="-3.05" width="4.9" height="2.25" fill="#fff"/>
<rect x="5.6" y="0.8" width="4.9" height="2.25" fill="#fff"/>
<line x1="12.7" y1="-5.25" x2="12.7" y2="5.25" stroke="#000" stroke-width="1.6"/>
<rect x="13.5" y="-9.5" width="18.0" height="19" rx="4" stroke="#000" stroke-width="1.8" fill="#fff"/>
<circle cx="23" cy="0" r="3.8" stroke="#000" stroke-width="1.7" fill="#fff"/>
<line x1="13.5" y1="-9.5" x2="13.5" y2="9.5" stroke="#000" stroke-width="2.4"/>
<line x1="31.5" y1="-9.5" x2="31.5" y2="9.5" stroke="#000" stroke-width="2.6"/>
<ellipse cx="22.5" cy="-6.8" rx="4.2" ry="1.9" stroke="#000" stroke-width="1.3" fill="none"/>
<ellipse cx="22.5" cy="6.8" rx="4.2" ry="1.9" stroke="#000" stroke-width="1.3" fill="none"/>
<rect x="31.5" y="-9.7" width="30.799999999999997" height="19.4" rx="0" stroke="#000" stroke-width="1.4" fill="#fff"/>
<rect x="54.5" y="-3.5" width="7.0" height="7" rx="0" stroke="#000" stroke-width="1.3" fill="none"/>
<rect x="62.3" y="-6.9" width="49.900000000000006" height="13.8" rx="0" stroke="#000" stroke-width="1.3" fill="#fff"/>
<line x1="112.2" y1="-6.9" x2="112.2" y2="6.9" stroke="#000" stroke-width="1.1"/>
<rect x="110.60000000000001" y="-7.9" width="2.2" height="2.2" fill="#000"/>
<rect x="110.60000000000001" y="5.7" width="2.2" height="2.2" fill="#000"/>
</g>
<g transform="translate(619.50,560.10) rotate(119.4)">
<rect x="0" y="-6.5" width="16.4" height="13" rx="0" stroke="#000" stroke-width="1.6" fill="#fff"/>
<line x1="1.0" y1="-6.5" x2="1.0" y2="6.5" stroke="#000" stroke-width="1.4"/>
<line x1="2.9" y1="-6.5" x2="2.9" y2="6.5" stroke="#000" stroke-width="1.4"/>
<rect x="4.2" y="-5.7" width="10.799999999999999" height="11.4" fill="#000"/>
<rect x="5.6" y="-4.3" width="7.799999999999999" height="3.5" fill="#fff"/>
<rect x="5.6" y="0.8" width="7.799999999999999" height="3.5" fill="#fff"/>
<line x1="15.599999999999998" y1="-6.5" x2="15.599999999999998" y2="6.5" stroke="#000" stroke-width="1.6"/>
<rect x="16.4" y="-10.2" width="11.200000000000003" height="20.4" rx="0" stroke="#000" stroke-width="2.0" fill="#fff"/>
<line x1="16.4" y1="-5.1" x2="27.6" y2="-5.1" stroke="#000" stroke-width="1.3"/>
<line x1="16.4" y1="5.1" x2="27.6" y2="5.1" stroke="#000" stroke-width="1.0"/>
<rect x="27.6" y="-7.5" width="58.6" height="15" rx="0" stroke="#000" stroke-width="1.3" fill="#fff"/>
<line x1="86.2" y1="-7.5" x2="86.2" y2="7.5" stroke="#000" stroke-width="1.1"/>
<rect x="84.60000000000001" y="-8.5" width="2.2" height="2.2" fill="#000"/>
<rect x="84.60000000000001" y="6.3" width="2.2" height="2.2" fill="#000"/>
</g>
<g transform="translate(727.90,560.00) rotate(61)">
<rect x="0" y="-6.25" width="17" height="12.5" rx="0" stroke="#000" stroke-width="1.6" fill="#fff"/>
<line x1="1.0" y1="-6.25" x2="1.0" y2="6.25" stroke="#000" stroke-width="1.4"/>
<line x1="2.9" y1="-6.25" x2="2.9" y2="6.25" stroke="#000" stroke-width="1.4"/>
<rect x="4.2" y="-5.45" width="11.4" height="10.9" fill="#000"/>
<rect x="5.6" y="-4.05" width="8.4" height="3.25" fill="#fff"/>
<rect x="5.6" y="0.8" width="8.4" height="3.25" fill="#fff"/>
<line x1="16.2" y1="-6.25" x2="16.2" y2="6.25" stroke="#000" stroke-width="1.6"/>
<rect x="17" y="-10.5" width="11.5" height="21" rx="0" stroke="#000" stroke-width="2.0" fill="#fff"/>
<line x1="17" y1="-5.25" x2="28.5" y2="-5.25" stroke="#000" stroke-width="1.3"/>
<line x1="17" y1="5.25" x2="28.5" y2="5.25" stroke="#000" stroke-width="1.0"/>
<rect x="28.5" y="-7.0" width="10.5" height="14" rx="0" stroke="#000" stroke-width="1.3" fill="#fff"/>
<line x1="39" y1="-7.0" x2="39" y2="7.0" stroke="#000" stroke-width="1.1"/>
<rect x="37.4" y="-8.0" width="2.2" height="2.2" fill="#000"/>
<rect x="37.4" y="5.8" width="2.2" height="2.2" fill="#000"/>
</g>
<g transform="translate(752.40,548.20) rotate(44.9)">
<rect x="0" y="-6.5" width="17" height="13" rx="0" stroke="#000" stroke-width="1.6" fill="#fff"/>
<line x1="1.0" y1="-6.5" x2="1.0" y2="6.5" stroke="#000" stroke-width="1.4"/>
<line x1="2.9" y1="-6.5" x2="2.9" y2="6.5" stroke="#000" stroke-width="1.4"/>
<rect x="4.2" y="-5.7" width="11.4" height="11.4" fill="#000"/>
<rect x="5.6" y="-4.3" width="8.4" height="3.5" fill="#fff"/>
<rect x="5.6" y="0.8" width="8.4" height="3.5" fill="#fff"/>
<line x1="16.2" y1="-6.5" x2="16.2" y2="6.5" stroke="#000" stroke-width="1.6"/>
<rect x="17" y="-12.75" width="9" height="25.5" rx="0" stroke="#000" stroke-width="2.0" fill="#fff"/>
<line x1="17" y1="-6.5" x2="26" y2="-6.5" stroke="#000" stroke-width="1.4"/>
<line x1="17" y1="6.5" x2="26" y2="6.5" stroke="#000" stroke-width="1.4"/>
<rect x="26" y="-9.75" width="42.900000000000006" height="19.5" rx="0" stroke="#000" stroke-width="1.3" fill="#fff"/>
<line x1="36" y1="-9.75" x2="36" y2="9.75" stroke="#000" stroke-width="2.8"/>
<line x1="68.9" y1="-9.75" x2="68.9" y2="9.75" stroke="#000" stroke-width="1.1"/>
<rect x="67.30000000000001" y="-10.75" width="2.2" height="2.2" fill="#000"/>
<rect x="67.30000000000001" y="8.55" width="2.2" height="2.2" fill="#000"/>
</g>
<line x1="435.00" y1="575.30" x2="491.90" y2="642.10" stroke="#1a1a1a" stroke-width="1.35" fill="none"/>
<text transform="translate(417.90,551.70) rotate(49)" x="-2.01" y="0" font-size="28.2" textLength="73.73" lengthAdjust="spacingAndGlyphs">M15x1</text>
<line x1="583.00" y1="639.00" x2="644.30" y2="673.50" stroke="#1a1a1a" stroke-width="1.35" fill="none"/>
<text transform="translate(613.70,651.00) rotate(30)" x="-1.06" y="0" font-size="28.2" textLength="70.14" lengthAdjust="spacingAndGlyphs">3/8&quot;G</text>
<line x1="740.50" y1="597.80" x2="678.90" y2="632.90" stroke="#1a1a1a" stroke-width="1.35" fill="none"/>
<text transform="translate(653.50,642.50) rotate(-30)" x="-1.04" y="0" font-size="28.2" textLength="69.09" lengthAdjust="spacingAndGlyphs">3/8&quot;G</text>
<line x1="807.80" y1="589.60" x2="859.00" y2="540.30" stroke="#1a1a1a" stroke-width="1.35" fill="none"/>
<text transform="translate(827.50,562.50) rotate(-45)" x="-1.99" y="0" font-size="28.2" textLength="65.95" lengthAdjust="spacingAndGlyphs">1/2&quot;G</text>
<line x1="90.00" y1="63.50" x2="93.50" y2="63.50" stroke="#000" stroke-width="2.2"/>
<line x1="279.00" y1="63.50" x2="275.50" y2="63.50" stroke="#000" stroke-width="2.2"/>
<line x1="499.30" y1="63.60" x2="502.80" y2="63.60" stroke="#000" stroke-width="2.2"/>
<line x1="673.30" y1="63.60" x2="676.80" y2="63.60" stroke="#000" stroke-width="2.2"/>
<line x1="673.30" y1="63.60" x2="669.80" y2="63.60" stroke="#000" stroke-width="2.2"/>
<line x1="847.80" y1="63.60" x2="844.30" y2="63.60" stroke="#000" stroke-width="2.2"/>
<line x1="26.00" y1="126.00" x2="26.00" y2="129.50" stroke="#000" stroke-width="2.2"/>
<line x1="26.00" y1="312.50" x2="26.00" y2="309.00" stroke="#000" stroke-width="2.2"/>
<line x1="64.60" y1="209.80" x2="64.60" y2="213.30" stroke="#000" stroke-width="2.2"/>
<line x1="64.60" y1="312.50" x2="64.60" y2="309.00" stroke="#000" stroke-width="2.2"/>
<line x1="550.70" y1="93.80" x2="550.70" y2="97.30" stroke="#000" stroke-width="2.2"/>
<line x1="550.70" y1="312.10" x2="550.70" y2="308.60" stroke="#000" stroke-width="2.2"/>
<line x1="550.70" y1="324.00" x2="550.70" y2="327.50" stroke="#000" stroke-width="2.2"/>
<line x1="628.60" y1="312.40" x2="628.60" y2="315.90" stroke="#000" stroke-width="2.2"/>
<line x1="628.60" y1="323.80" x2="628.60" y2="320.30" stroke="#000" stroke-width="2.2"/>
<line x1="804.60" y1="312.40" x2="804.60" y2="315.90" stroke="#000" stroke-width="2.2"/>
<line x1="804.60" y1="324.10" x2="804.60" y2="320.60" stroke="#000" stroke-width="2.2"/>
<line x1="472.70" y1="286.40" x2="476.20" y2="286.40" stroke="#000" stroke-width="2.2"/>
<line x1="525.30" y1="286.40" x2="521.80" y2="286.40" stroke="#000" stroke-width="2.2"/>
<line x1="486.20" y1="443.70" x2="489.70" y2="443.70" stroke="#000" stroke-width="2.2"/>
<line x1="511.30" y1="443.70" x2="507.80" y2="443.70" stroke="#000" stroke-width="2.2"/>
<line x1="654.80" y1="456.00" x2="658.30" y2="456.00" stroke="#000" stroke-width="2.2"/>
<line x1="692.20" y1="456.00" x2="688.70" y2="456.00" stroke="#000" stroke-width="2.2"/>
<line x1="835.60" y1="426.70" x2="839.10" y2="426.70" stroke="#000" stroke-width="2.2"/>
<line x1="861.10" y1="426.70" x2="857.60" y2="426.70" stroke="#000" stroke-width="2.2"/>
</svg></body></html>
